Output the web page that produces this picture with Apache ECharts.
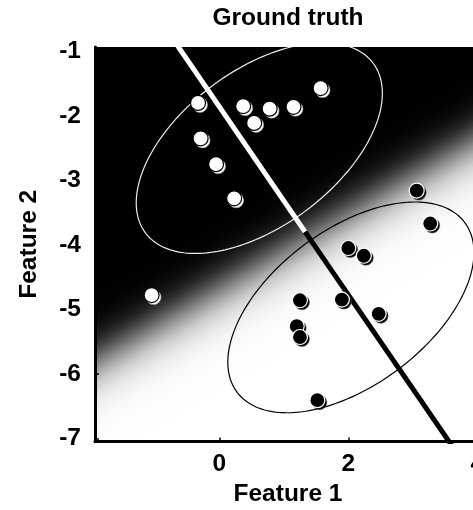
<!DOCTYPE html>
<html>
<head>
<meta charset="utf-8">
<script src="https://cdn.jsdelivr.net/npm/echarts@6/dist/echarts.min.js"></script>
<style>
  html, body { margin: 0; padding: 0; background: #fff; }
  #chart { width: 473px; height: 510px; }
</style>
</head>
<body>
<div id="chart"></div>
<script>
// Class A samples (upper-left cluster)
const classAX = [-0.33, 0.37, 0.78, 1.15, 1.57, 0.54, -0.29, -0.05, 0.23, -1.05];
const classAY = [-1.80, -1.85, -1.89, -1.86, -1.57, -2.11, -2.35, -2.75, -3.28, -4.78];
// Class B samples (lower-right cluster)
const classBX = [3.06, 3.27, 2.00, 2.24, 1.25, 1.90, 2.47, 1.20, 1.25, 1.52];
const classBY = [-3.16, -3.67, -4.05, -4.17, -4.86, -4.85, -5.07, -5.26, -5.43, -6.41];

// True class means and the shared contour shape (covariance scaled to the drawn contour)
const meanA = [0.62, -2.50];
const meanB = [2.04, -4.97];
const contourShape = [[3.64, 1.62], [1.62, 2.67]];

// Discriminant direction, split at the decision point
const decisionPoint = [1.33, -3.80];
const discriminantA = [[-0.93, -0.5], [1.33, -3.80]];
const discriminantB = [[1.33, -3.80], [3.87, -7.5]];

// Posterior shading: slope of the iso-probability lines, logistic width (data units)
// and the exponent applied to the probability before it becomes a grey level
const isoSlope = 0.58;
const posteriorWidth = 0.22;
const shadeGamma = 1.5;

const xTicks = [0, 2, 4];
const yTicks = [-7, -6, -5, -4, -3, -2, -1];

const FONT = '"Liberation Sans", Arial, Helvetica, sans-serif';

function pairs(xs, ys) {
  return xs.map((x, i) => [x, ys[i]]);
}

// Full-plot rectangle filled with a logistic black-to-white ramp across the boundary
function renderPosterior(params, api) {
  const cs = params.coordSys;
  const len = Math.hypot(isoSlope, 1);
  const n = [isoSlope / len, -1 / len];
  const span = 7 * posteriorWidth;
  const cx = api.value(0), cy = api.value(1);
  const p0 = api.coord([cx - n[0] * span, cy - n[1] * span]);
  const p1 = api.coord([cx + n[0] * span, cy + n[1] * span]);
  const stops = [];
  const steps = 64;
  for (let i = 0; i <= steps; i++) {
    const t = i / steps;
    const d = (2 * t - 1) * span;
    const p = 1 / (1 + Math.exp(-d / posteriorWidth));
    const g = Math.round(255 * Math.pow(p, shadeGamma));
    stops.push({ offset: t, color: 'rgb(' + g + ',' + g + ',' + g + ')' });
  }
  return {
    type: 'rect',
    shape: { x: cs.x, y: cs.y, width: cs.width, height: cs.height },
    style: {
      fill: { type: 'linear', x: p0[0], y: p0[1], x2: p1[0], y2: p1[1], colorStops: stops, global: true }
    },
    silent: true
  };
}

// Contour ellipse around a class mean
function contourRenderer(stroke) {
  return function (params, api) {
    const mx = api.value(0), my = api.value(1);
    const a = Math.sqrt(contourShape[0][0]);
    const b = contourShape[0][1] / a;
    const c = Math.sqrt(contourShape[1][1] - b * b);
    const pts = [];
    const steps = 200;
    for (let i = 0; i <= steps; i++) {
      const t = (i / steps) * Math.PI * 2;
      pts.push(api.coord([mx + a * Math.cos(t), my + b * Math.cos(t) + c * Math.sin(t)]));
    }
    return {
      type: 'polyline',
      shape: { points: pts },
      style: { fill: null, stroke: stroke, lineWidth: 1.2 },
      silent: true
    };
  };
}

const chart = echarts.init(document.getElementById('chart'), null, { renderer: 'canvas' });

const axisLabelStyle = { color: '#000', fontFamily: FONT, fontWeight: 'bold', fontSize: 24.5 };

chart.setOption({
  animation: false,
  backgroundColor: '#fff',
  graphic: [{
    type: 'text',
    x: 288,
    y: 6,
    style: {
      text: 'Ground truth',
      fill: '#000',
      font: 'bold 24.5px ' + FONT,
      textAlign: 'center',
      textVerticalAlign: 'top'
    }
  }],
  grid: { left: 95, top: 47, height: 394.5, width: 386, containLabel: false, outerBoundsMode: 'none' },
  xAxis: {
    type: 'value',
    min: -1.927,
    max: 4.057,
    name: 'Feature 1',
    nameLocation: 'middle',
    nameGap: 40,
    nameTextStyle: axisLabelStyle,
    axisLine: { show: true, onZero: false, lineStyle: { color: '#000', width: 3 } },
    axisTick: { show: true, inside: true, length: 4, customValues: xTicks, lineStyle: { color: '#000', width: 1.5 } },
    axisLabel: Object.assign({ margin: 10, customValues: xTicks }, axisLabelStyle),
    splitLine: { show: false }
  },
  yAxis: {
    type: 'value',
    min: -7.05,
    max: -0.933,
    name: 'Feature 2',
    nameLocation: 'middle',
    nameGap: 53,
    nameTextStyle: axisLabelStyle,
    axisLine: { show: true, onZero: false, lineStyle: { color: '#000', width: 3 } },
    axisTick: { show: true, inside: true, length: 4, customValues: yTicks, lineStyle: { color: '#000', width: 1.5 } },
    axisLabel: Object.assign({ margin: 14, customValues: yTicks }, axisLabelStyle),
    splitLine: { show: false }
  },
  series: [
    {
      type: 'custom',
      renderItem: renderPosterior,
      data: [decisionPoint],
      clip: true,
      z: 0
    },
    {
      type: 'custom',
      renderItem: contourRenderer('#ececec'),
      data: [meanA],
      clip: true,
      z: 1
    },
    {
      type: 'custom',
      renderItem: contourRenderer('#000'),
      data: [meanB],
      clip: true,
      z: 1
    },
    {
      type: 'line',
      data: discriminantA,
      symbol: 'none',
      clip: true,
      lineStyle: { color: '#fff', width: 5, cap: 'butt' },
      z: 2
    },
    {
      type: 'line',
      data: discriminantB,
      symbol: 'none',
      clip: true,
      lineStyle: { color: '#000', width: 5, cap: 'butt' },
      z: 2
    },
    {
      type: 'scatter',
      data: pairs(classAX, classAY),
      symbolSize: 15,
      symbolOffset: [2, 2],
      itemStyle: { color: '#fff', borderColor: '#9a9a9a', borderWidth: 0.6, opacity: 1 },
      z: 3
    },
    {
      type: 'scatter',
      data: pairs(classAX, classAY),
      symbolSize: 15,
      itemStyle: { color: '#fff', borderColor: '#000', borderWidth: 1.2, opacity: 1 },
      z: 4
    },
    {
      type: 'scatter',
      data: pairs(classBX, classBY),
      symbolSize: 15,
      symbolOffset: [2, 2],
      itemStyle: { color: '#000', borderColor: '#555', borderWidth: 0.6, opacity: 1 },
      z: 3
    },
    {
      type: 'scatter',
      data: pairs(classBX, classBY),
      symbolSize: 15,
      itemStyle: { color: '#000', borderColor: '#fff', borderWidth: 1.2, opacity: 1 },
      z: 4
    }
  ]
});
</script>
</body>
</html>
